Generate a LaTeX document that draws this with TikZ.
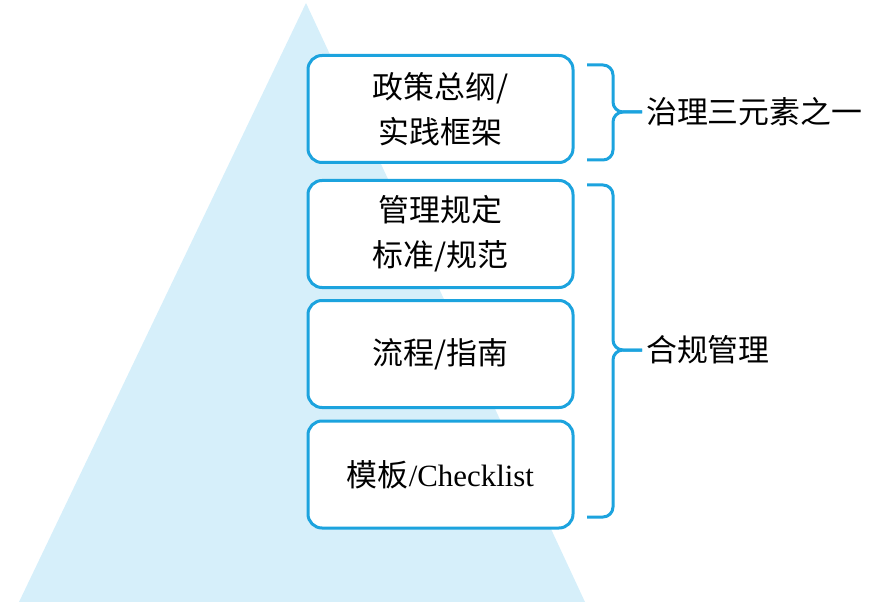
\documentclass[tikz,border=0pt]{standalone}
\usepackage{fontspec}
\setmainfont{Liberation Serif}
\newfontfamily\cjk{Noto Sans CJK SC}
\usetikzlibrary{positioning}
\definecolor{boxblue}{RGB}{28,163,222}
\definecolor{pyrfill}{RGB}{214,239,250}
\begin{document}
\begin{tikzpicture}[>=latex,line join=bevel,x=1bp,y=-1bp,
    layerbox/.style={draw=boxblue,line width=3bp,rounded corners=14bp,fill=white,
      minimum width=265bp,minimum height=107bp,inner sep=0pt,align=center,
      font=\fontsize{31}{45}\selectfont},
    bracepath/.style={draw=boxblue,line width=3bp,rounded corners=10bp},
    bracetext/.style={anchor=west,inner sep=4bp,font=\fontsize{31}{36}\selectfont\cjk}]
      \useasboundingbox (0,0) rectangle (888,602);
      %% 
      % Pyramid
      \fill[pyrfill] (306,3) -- (585,602) -- (19,602) -- cycle;
      % Node: policy
      \node[layerbox] (policy) at (440.5,109) {\cjk 政策总纲/\\\cjk 实践框架};
      % Node: rules
      \node[layerbox] (rules) at (440.5,234) {\cjk 管理规定\\\cjk 标准/规范};
      % Node: process
      \node[layerbox] (process) at (440.5,354) {\cjk 流程/指南};
      % Node: template
      \node[layerbox] (template) at (440.5,474.5) {{\cjk 模板}/Checklist};
      % Node: gov
      \node[bracetext] (gov) at (642,112) {治理三元素之一};
      % Node: comply
      \node[bracetext] (comply) at (642,350) {合规管理};
      % Edge: policy -> gov
      \draw[bracepath] (587,65) -| (613,112) -- (gov.west);
      \draw[bracepath] (587,160) -| (613,112) -- (gov.west);
      % Edge: rules, process, template -> comply
      \draw[bracepath] (587,185) -| (613,350) -- (comply.west);
      \draw[bracepath] (587,517) -| (613,350) -- (comply.west);
      % 
\end{tikzpicture}
\end{document}
